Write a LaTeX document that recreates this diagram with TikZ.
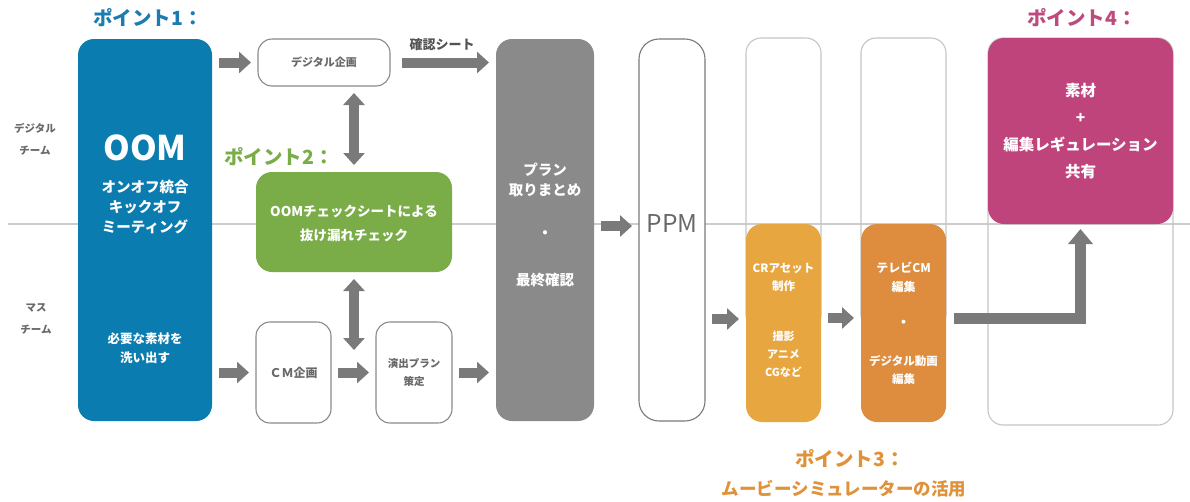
\documentclass[tikz,border=0pt]{standalone}
\usepackage{fontspec}
\setmainfont{Noto Sans CJK JP}
\usetikzlibrary{arrows.meta}
\definecolor{cblue}{RGB}{10,124,176}
\definecolor{tblue}{RGB}{26,124,176}
\definecolor{cgreen}{RGB}{122,172,72}
\definecolor{cgray}{RGB}{138,138,138}
\definecolor{corange}{RGB}{232,166,64}
\definecolor{cdorange}{RGB}{222,140,62}
\definecolor{tor}{RGB}{224,146,58}
\definecolor{cpink}{RGB}{192,68,124}
\definecolor{tpink}{RGB}{190,75,126}
\definecolor{arrgray}{RGB}{122,122,122}
\definecolor{boxgray}{RGB}{138,138,138}
\definecolor{lgray}{RGB}{196,196,196}
\definecolor{linegray}{RGB}{205,205,205}
\definecolor{txtgray}{RGB}{105,105,105}
\newcommand\myfs[2]{\fontsize{#1}{#2}\selectfont}
\begin{document}
\begin{tikzpicture}[x=1pt,y=-1pt,
  wbox/.style={draw=boxgray, line width=1.1pt, fill=white, rounded corners=14pt, inner sep=0pt, outer sep=0pt},
  lbox/.style={draw=lgray, line width=1.1pt, rounded corners=15pt, inner sep=0pt, outer sep=0pt},
  fbox/.style={fill=#1, rounded corners=16pt, inner sep=0pt, outer sep=0pt},
  barrow/.style={draw=arrgray, line width=10pt, -{Triangle[width=21pt,length=12pt]}, shorten <=7pt, shorten >=7pt},
  darrow/.style={draw=arrgray, line width=10pt, {Triangle[width=21pt,length=12pt]}-{Triangle[width=21pt,length=12pt]}, shorten <=7pt, shorten >=7pt},
  txt/.style={inner sep=0pt, align=center},
  wtxt/.style={txt, text=white},
  gtxt/.style={txt, text=txtgray}
]
\useasboundingbox (0,0) rectangle (1190,501);
% divider
\coordinate (divL) at (8,224);
\coordinate (divR) at (1190,224);
\draw[line width=1.2pt, linegray] (divL) -- (divR);

% team labels
\node[gtxt, font={\myfs{10.5}{22}\bfseries}] (tdig) at (35,139) {デジタル\\チーム};
\node[gtxt, font={\myfs{10.5}{22}\bfseries}] (tmass) at (36,319) {マス\\チーム};

% point labels
\node[txt, text=tblue, font={\myfs{19.5}{22}\bfseries}] (p1) at (148,18) {ポイント1：};
\node[txt, text=cgreen, font={\myfs{19.5}{22}\bfseries}] (p2) at (279,157) {ポイント2：};
\node[txt, text=tpink, font={\myfs{19.5}{22}\bfseries}] (p4) at (1082,18) {ポイント4：};
\node[txt, text=tor, font={\myfs{19.5}{22}\bfseries}] (p3) at (850,459) {ポイント3：};
\node[txt, text=tor, font={\myfs{17.5}{22}\bfseries}] (p3b) at (844,489) {ムービーシミュレーターの活用};

% light background boxes
\node[lbox, minimum width=75pt, minimum height=292pt] (l1) at (783.5,184) {};
\node[lbox, minimum width=85pt, minimum height=292pt] (l2) at (903.5,184) {};
\node[lbox, minimum width=185pt, minimum height=387pt] (pinkbg) at (1080.5,231.5) {};

% main boxes
\node[fbox=cblue, minimum width=134pt, minimum height=382pt] (oom) at (145,230) {};
\node[wbox, minimum width=132pt, minimum height=47pt, font={\myfs{11}{14}\bfseries}, text=txtgray] (dig) at (324,62.5) {デジタル企画};
\node[fbox=cgreen, minimum width=196pt, minimum height=100pt] (green) at (354,222) {};
\node[wbox, minimum width=75pt, minimum height=101pt, font={\myfs{12}{14}\bfseries}, text=txtgray] (cm) at (293.5,372.5) {ＣＭ企画};
\node[wbox, minimum width=76pt, minimum height=101pt, font={\myfs{10.5}{18}\bfseries}, text=txtgray, align=center] (en) at (414,372.5) {演出プラン\\策定};
\node[fbox=cgray, minimum width=98pt, minimum height=382pt] (gray) at (545,230) {};
\node[wbox, rounded corners=20pt, draw=arrgray, minimum width=66pt, minimum height=382pt] (ppm) at (672,230) {};
\node[fbox=corange, minimum width=75pt, minimum height=198pt] (o1) at (783.5,323) {};
\node[fbox=cdorange, minimum width=85pt, minimum height=198pt] (o2) at (903.5,323) {};
\node[fbox=cpink, minimum width=185pt, minimum height=186pt] (pink) at (1080.5,131) {};

% texts in boxes
\node[wtxt, font={\myfs{34}{36}\bfseries}] (toom) at (145,148) {OOM};
\node[wtxt, font={\myfs{14.5}{20}\bfseries}] (toom2) at (145,207) {オンオフ統合\\キックオフ\\ミーティング};
\node[wtxt, font={\myfs{12.5}{19}\bfseries}] (toom3) at (145,348.5) {必要な素材を\\洗い出す};
\node[wtxt, font={\myfs{13.5}{24}\bfseries}] (tgreen) at (354,224) {OOMチェックシートによる\\抜け漏れチェック};
\node[wtxt, font={\myfs{14.5}{20}\bfseries}] (tgray1) at (545,180) {プラン\\取りまとめ};
\node[wtxt, font={\myfs{15}{16}\bfseries}] (tgray2) at (545,235) {・};
\node[wtxt, font={\myfs{14.5}{20}\bfseries}] (tgray3) at (545,280) {最終確認};
\node[txt, text=txtgray, font={\myfs{24.5}{26}}] (tppm) at (672,224) {PPM};
\node[wtxt, font={\myfs{11.5}{18}\bfseries}] (to1a) at (783.5,277) {CRアセット\\制作};
\node[wtxt, font={\myfs{11}{18}\bfseries}] (to1b) at (783.5,354) {撮影\\アニメ\\CGなど};
\node[wtxt, font={\myfs{12}{19}\bfseries}] (to2a) at (903.5,277.5) {テレビCM\\編集};
\node[wtxt, font={\myfs{14}{14}\bfseries}] (to2b) at (903.5,324) {・};
\node[wtxt, font={\myfs{11.5}{18}\bfseries}] (to2c) at (903.5,370) {デジタル動画\\編集};
\node[wtxt, font={\myfs{15.5}{27}\bfseries}] (tpink) at (1080.5,131) {素材\\+\\編集レギュレーション\\共有};
\node[txt, text=txtgray!80!black, font={\myfs{13}{16}\bfseries}] (tconf) at (442,45) {確認シート};

% connectors
\coordinate (ymid) at (0,226);
\coordinate (y319) at (0,319);
\coordinate (y318) at (0,318);
\coordinate (dd) at (354,357);
\draw[barrow] (oom.east |- dig.west) -- (dig.west);
\draw[barrow] (oom.east |- cm.west) -- (cm.west);
\draw[barrow] (cm.east) -- (en.west);
\draw[barrow] (en.east) -- (gray.west |- en.east);
\draw[barrow, shorten <=12pt] (dig.east) -- (gray.west |- dig.east);
\draw[barrow] (gray.east |- ymid) -- (ppm.west |- ymid);
\draw[barrow] (ppm.east |- y319) -- (o1.west |- y319);
\draw[barrow] (o1.east |- y318) -- (o2.west |- y318);
\draw[barrow, line width=11pt, -{Triangle[width=24pt,length=15pt]}, shorten <=8pt, shorten >=5pt] (o2.east |- y318) -| (pink.south);
\draw[darrow] (dig.south -| green.north) -- (green.north);
\draw[darrow] (green.south) -- (dd);
\end{tikzpicture}
\end{document}
